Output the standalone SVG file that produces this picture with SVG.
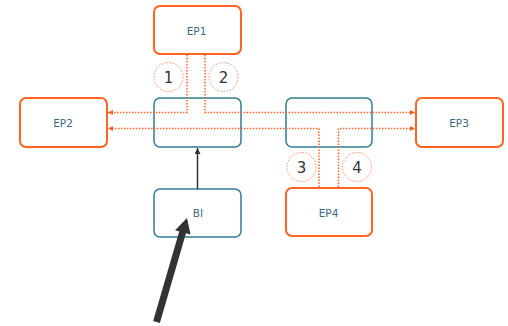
<svg xmlns="http://www.w3.org/2000/svg" width="508" height="326" viewBox="0 0 508 326">
<style>
.ep{fill:#fff;stroke:#FF6422;stroke-width:2}
.sw{fill:#fff;stroke:#2F7F90;stroke-width:1.5}
.lbl{font-family:"DejaVu Sans",Verdana,sans-serif;font-size:10.5px;fill:#3A6A80;text-anchor:middle}
.num{font-family:"DejaVu Sans",Verdana,sans-serif;font-size:15px;fill:#333;text-anchor:middle}
.cir{fill:none;stroke:#FF8A5A;stroke-width:1;stroke-dasharray:1.5 1.5}
.dot{fill:none;stroke:#FF6422;stroke-width:1.5;stroke-dasharray:1.5 1.5}
</style>
<defs>
<marker id="oa" viewBox="0 0 10 10" refX="10" refY="5" markerWidth="5" markerHeight="5" markerUnits="userSpaceOnUse" orient="auto">
<path d="M0,0 L10,5 L0,10 Z" fill="#FF6422"/>
</marker>
<marker id="ga" viewBox="0 0 10 10" refX="10" refY="5" markerWidth="6" markerHeight="6" markerUnits="userSpaceOnUse" orient="auto">
<path d="M0,0 L10,5 L0,10 Z" fill="#333"/>
</marker>
</defs>
<g id="EP1"><rect class="ep" x="154" y="6" width="87" height="48" rx="6"/><text class="lbl" x="196.5" y="34.5">EP1</text></g>
<g id="EP2"><rect class="ep" x="20" y="98" width="87" height="49" rx="6"/><text class="lbl" x="63" y="127">EP2</text></g>
<g id="EP3"><rect class="ep" x="416" y="98" width="87" height="49" rx="6"/><text class="lbl" x="459" y="127">EP3</text></g>
<g id="EP4"><rect class="ep" x="286" y="188" width="86" height="48" rx="6"/><text class="lbl" x="328.5" y="216.5">EP4</text></g>
<g id="SW1"><rect class="sw" x="154" y="98" width="87" height="49" rx="6"/></g>
<g id="SW2"><rect class="sw" x="286" y="98" width="86" height="49" rx="6"/></g>
<g id="BI"><rect class="sw" x="154" y="189" width="87" height="48" rx="6"/><text class="lbl" x="198" y="216.5">BI</text></g>
<g id="labels">
<circle class="cir" cx="168.5" cy="77" r="14.5"/><text class="num" x="168.5" y="82.5">1</text>
<circle class="cir" cx="223.5" cy="77" r="14.5"/><text class="num" x="223.5" y="82.5">2</text>
<circle class="cir" cx="301.5" cy="167" r="14.5"/><text class="num" x="301.5" y="172.5">3</text>
<circle class="cir" cx="357" cy="167" r="14.5"/><text class="num" x="357" y="172.5">4</text>
</g>
<g id="connectors">
<polyline class="dot" points="187,55 187,112.5 108,112.5" marker-end="url(#oa)"/>
<polyline class="dot" points="205,55 205,112.5 415,112.5" marker-end="url(#oa)"/>
<polyline class="dot" points="319,187 319,128.5 108,128.5" marker-end="url(#oa)"/>
<polyline class="dot" points="338.5,187 338.5,128.5 415,128.5" marker-end="url(#oa)"/>
<line x1="197.5" y1="189" x2="197.5" y2="148" stroke="#333" stroke-width="1.5" marker-end="url(#ga)"/>
<line x1="156.5" y1="322" x2="183" y2="231" stroke="#333" stroke-width="7"/>
<polygon points="187,218 190.5,234.6 175.1,230.2" fill="#333"/>
</g>
</svg>
